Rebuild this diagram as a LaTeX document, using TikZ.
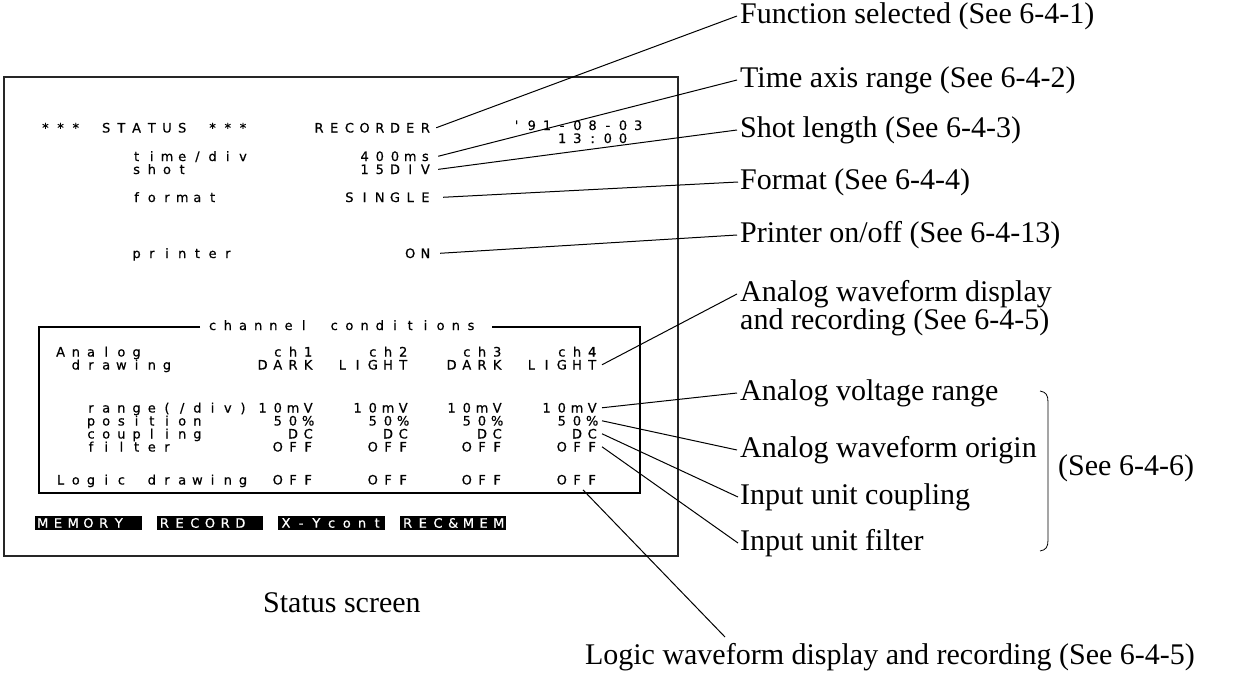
\documentclass[tikz,border=0pt]{standalone}
\usepackage{fontspec}
\setmainfont{Liberation Serif}
\newfontfamily\scrfont[Numbers=SlashedZero,FakeBold=0.6]{DejaVu Sans}
\newlength\scrcell
\setlength\scrcell{15.2pt}
\newcommand\scrsp{}
\ExplSyntaxOn
\NewDocumentCommand \scrtxt { m }
  {
    \tl_set:Nn \l_tmpa_tl {#1}
    \tl_replace_all:Nnn \l_tmpa_tl { ~ } { \scrsp }
    \tl_map_inline:Nn \l_tmpa_tl { \makebox[\scrcell][c]{##1} }
  }
\ExplSyntaxOff
\tikzset{
  scr/.style={font=\scrfont\fontsize{13}{14}\selectfont, inner sep=0pt, anchor=base west},
  scrr/.style={scr, anchor=base east},
  lab/.style={font=\fontsize{30}{31}\selectfont, inner sep=0pt, anchor=west},
  lead/.style={line width=1pt},
  btn/.style={scr, fill=black, text=white, anchor=west, minimum height=14pt, inner sep=0pt},
}
\begin{document}
\begin{tikzpicture}[x=1pt,y=-1pt]
\fill[white] (0,0) rectangle (1239,673);
\useasboundingbox (0,0) rectangle (1239,673);
% outer screen frame
\draw[line width=1.8pt, black!85] (4,77) rectangle (678,556);
% upper status block
\node[scr] (status) at (37.6,132.5) {\scrtxt{*** STATUS ***}};
\node[scr] (rec)  at (311.2,132.5) {\scrtxt{RECORDER}};
\node[scr] (date) at (508.8,130) {\scrtxt{'91-08-03}};
\node[scr] (clk)  at (554.4,143) {\scrtxt{13:00}};
\node[scr] (tdiv) at (128.8,161) {\scrtxt{time/div}};
\node[scr] (tval) at (356.8,161) {\scrtxt{400ms}};
\node[scr] (shot) at (128.8,174) {\scrtxt{shot}};
\node[scr] (sval) at (356.8,174) {\scrtxt{15DIV}};
\node[scr] (fmt)  at (128.8,202) {\scrtxt{format}};
\node[scr] (fval) at (341.6,202) {\scrtxt{SINGLE}};
\node[scr] (prn)  at (128.8,258) {\scrtxt{printer}};
\node[scr] (pval) at (402.4,258) {\scrtxt{ON}};
% channel conditions box
\draw[line width=1.1pt] (200,327) -- (39,327) -- (39,493) -- (640,493) -- (640,327) -- (492,327);
\node[scr] (chc) at (204.8,330) {\scrtxt{channel conditions}};
\node[scr] (ana) at (52.8,356.5) {\scrtxt{Analog}};
\node[scr] (drw) at (68,369.5) {\scrtxt{drawing}};
\node[scr] (rng) at (83.2,412.5) {\scrtxt{range(/div)}};
\node[scr] (pos) at (83.2,425.5) {\scrtxt{position}};
\node[scr] (cpl) at (83.2,438.5) {\scrtxt{coupling}};
\node[scr] (flt) at (83.2,451.5) {\scrtxt{filter}};
\node[scr] (lgc) at (52.8,484.5) {\scrtxt{Logic drawing}};
% channel columns
\node[scrr] (c1) at (316,356.5) {\scrtxt{ch1}};
\node[scrr] (c2) at (411,356.5) {\scrtxt{ch2}};
\node[scrr] (c3) at (505,356.5) {\scrtxt{ch3}};
\node[scrr] (c4) at (600,356.5) {\scrtxt{ch4}};
\node[scrr] (d1) at (316,369.5) {\scrtxt{DARK}};
\node[scrr] (d2) at (411,369.5) {\scrtxt{LIGHT}};
\node[scrr] (d3) at (505,369.5) {\scrtxt{DARK}};
\node[scrr] (d4) at (600,369.5) {\scrtxt{LIGHT}};
\node[scrr] (r1) at (316,412.5) {\scrtxt{10mV}};
\node[scrr] (r2) at (411,412.5) {\scrtxt{10mV}};
\node[scrr] (r3) at (505,412.5) {\scrtxt{10mV}};
\node[scrr] (r4) at (600,412.5) {\scrtxt{10mV}};
\node[scrr] (p1) at (316,425.5) {\scrtxt{50\%}};
\node[scrr] (p2) at (411,425.5) {\scrtxt{50\%}};
\node[scrr] (p3) at (505,425.5) {\scrtxt{50\%}};
\node[scrr] (p4) at (600,425.5) {\scrtxt{50\%}};
\node[scrr] (k1) at (316,438.5) {\scrtxt{DC}};
\node[scrr] (k2) at (411,438.5) {\scrtxt{DC}};
\node[scrr] (k3) at (505,438.5) {\scrtxt{DC}};
\node[scrr] (k4) at (600,438.5) {\scrtxt{DC}};
\node[scrr] (fo1) at (316,451.5) {\scrtxt{OFF}};
\node[scrr] (fo2) at (411,451.5) {\scrtxt{OFF}};
\node[scrr] (fo3) at (505,451.5) {\scrtxt{OFF}};
\node[scrr] (fo4) at (600,451.5) {\scrtxt{OFF}};
\node[scrr] (lo1) at (316,484.5) {\scrtxt{OFF}};
\node[scrr] (lo2) at (411,484.5) {\scrtxt{OFF}};
\node[scrr] (lo3) at (505,484.5) {\scrtxt{OFF}};
\node[scrr] (lo4) at (600,484.5) {\scrtxt{OFF}};
% soft keys
\node[btn] (b1) at (35,523)    {\makebox[106.4pt][l]{\scrtxt{MEMORY}}};
\node[btn] (b2) at (156.6,523) {\makebox[106.4pt][l]{\scrtxt{RECORD}}};
\node[btn] (b3) at (278.2,523) {\makebox[106.4pt][l]{\scrtxt{X-Ycont}}};
\node[btn] (b4) at (399.8,523) {\makebox[106.4pt][l]{\scrtxt{REC\&MEM}}};
% caption
\node[lab, anchor=base west] (cap) at (263,612) {Status screen};
% explanation labels
\node[lab] (L1)  at (740,16)  {Function selected (See 6-4-1)};
\node[lab] (L2)  at (740,80)  {Time axis range (See 6-4-2)};
\node[lab] (L3)  at (740,130) {Shot length (See 6-4-3)};
\node[lab] (L4)  at (740,182) {Format (See 6-4-4)};
\node[lab] (L5)  at (740,235) {Printer on/off (See 6-4-13)};
\node[lab] (L6)  at (740,294) {Analog waveform display};
\node[lab] (L6b) at (740,322) {and recording (See 6-4-5)};
\node[lab] (L7)  at (740,393) {Analog voltage range};
\node[lab] (L8)  at (740,450) {Analog waveform origin};
\node[lab] (L9)  at (740,497) {Input unit coupling};
\node[lab] (L10) at (740,543) {Input unit filter};
\node[lab] (L11) at (1058,468) {(See 6-4-6)};
\node[lab, anchor=east] (L12) at (1195,657) {Logic waveform display and recording (See 6-4-5)};
% bracket
\draw[line width=0.8pt] (1040,391) .. controls (1046,392) and (1048,395) .. (1048,402)
  -- (1048,540) .. controls (1048,547) and (1046,550) .. (1040,551);
% leaders
\draw[lead] ([xshift=3pt]rec.east)  -- ([xshift=-3pt]L1.west);
\draw[lead] ([xshift=5pt]tval.east) -- ([xshift=-3pt]L2.west);
\draw[lead] ([xshift=5pt]sval.east) -- ([xshift=-3pt]L3.west);
\draw[lead] ([xshift=10pt]fval.east) -- ([xshift=-2pt]L4.west);
\draw[lead] ([xshift=7pt]pval.east) -- ([xshift=-3pt]L5.west);
\draw[lead] ([xshift=2pt]d4.east) -- ([xshift=-3pt]L6.west);
\draw[lead] ([xshift=2pt]r4.east) -- ([xshift=-3pt]L7.west);
\draw[lead] ([xshift=2pt]p4.east) -- ([xshift=-3pt]L8.west);
\draw[lead] ([xshift=2pt]k4.east) -- ([xshift=-2pt]L9.west);
\draw[lead] ([xshift=2pt]fo4.east) -- ([xshift=-2pt]L10.west);
\coordinate (lw) at (725,637);
\draw[lead] ([xshift=6pt,yshift=-5pt]lo4.south) -- (lw);
\end{tikzpicture}
\end{document}
